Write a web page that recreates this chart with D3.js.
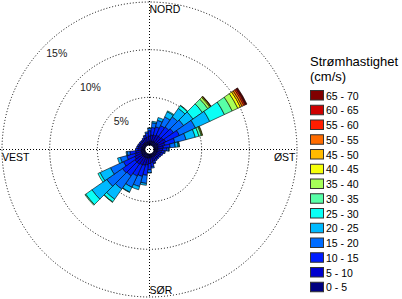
<!DOCTYPE html>
<html>
<head>
<meta charset="utf-8">
<script src="https://cdn.jsdelivr.net/npm/d3@7"></script>
<style>
  body { margin: 0; background: #fff; }
  svg { display: block; font-family: "Liberation Sans", Arial, sans-serif; }
</style>
</head>
<body>
<svg id="chart" width="402" height="299"></svg>
<script>
// direction of each sector (degrees, clockwise from north)
const directions = [0, 10, 20, 30, 40, 50, 60, 70, 80, 90, 100, 110, 120, 130, 140, 150, 160, 170,
                    180, 190, 200, 210, 220, 230, 240, 250, 260, 270, 280, 290, 300, 310, 320, 330, 340, 350];

const speedBins = ["0 - 5", "5 - 10", "10 - 15", "15 - 20", "20 - 25", "25 - 30", "30 - 35",
                   "35 - 40", "40 - 45", "45 - 50", "50 - 55", "55 - 60", "60 - 65", "65 - 70"];

// percent of time per direction, one array per speed bin
const s0_5   = [0.4,0.4,0.4,0.45,0.45,0.5,0.57,0.45,0.4,0.4,0.35,0.35,0.35,0.35,0.35,0.35,0.35,0.35,
                0.4,0.4,0.45,0.45,0.5,0.5,0.45,0.4,0.4,0.35,0.35,0.35,0.35,0.35,0.35,0.35,0.35,0.35];
const s5_10  = [0.55,0.65,0.7,0.75,0.75,0.8,0.83,0.75,0.6,0.5,0.45,0.4,0.35,0.35,0.35,0.35,0.45,0.55,
                0.6,0.75,0.8,0.85,0.9,0.9,0.8,0.7,0.6,0.4,0.35,0.35,0.3,0.3,0.3,0.35,0.45,0.5];
const s10_15 = [0.55,0.8,0.9,1.1,1.2,1.3,1.6,1.1,0.7,0.45,0.3,0.25,0.2,0.15,0.15,0.2,0.25,0.45,
                0.65,1.1,1.2,1.3,1.5,1.6,1.3,0.9,0.6,0.25,0.2,0.15,0.15,0.15,0.15,0.2,0.25,0.4];
const s15_20 = [0.25,0.5,0.7,1.0,1.3,1.3,1.85,1.2,0.55,0.2,0.1,0,0,0,0,0,0.05,0.15,
                0.3,0.85,1.1,1.3,1.7,2.0,1.5,0.7,0.3,0,0,0,0,0,0,0,0.05,0.15];
const s20_25 = [0.05,0.15,0.3,0.6,1.1,1.2,1.65,1.0,0.3,0.05,0,0,0,0,0,0,0,0,
                0.05,0.2,0.35,0.55,1.3,1.9,1.2,0.3,0.1,0,0,0,0,0,0,0,0,0];
const s25_30 = [0,0,0,0.1,0.35,1.2,1.7,0.4,0.1,0,0,0,0,0,0,0,0,0,
                0,0,0,0.05,0.35,0.8,0.25,0,0,0,0,0,0,0,0,0,0,0];
const s30_35 = [0,0,0,0,0.05,0.7,0.9,0.25,0.05,0,0,0,0,0,0,0,0,0,
                0,0,0,0,0.05,0.1,0,0,0,0,0,0,0,0,0,0,0,0];
const s35_40 = [0,0,0,0,0,0.25,0.65,0.1,0,0,0,0,0,0,0,0,0,0,
                0,0,0,0,0,0,0,0,0,0,0,0,0,0,0,0,0,0];
const s40_45 = [0,0,0,0,0,0.1,0.3,0.05,0,0,0,0,0,0,0,0,0,0,
                0,0,0,0,0,0,0,0,0,0,0,0,0,0,0,0,0,0];
const s45_50 = [0,0,0,0,0,0.05,0.2,0,0,0,0,0,0,0,0,0,0,0,
                0,0,0,0,0,0,0,0,0,0,0,0,0,0,0,0,0,0];
const s50_55 = [0,0,0,0,0,0.03,0.2,0,0,0,0,0,0,0,0,0,0,0,
                0,0,0,0,0,0,0,0,0,0,0,0,0,0,0,0,0,0];
const s55_60 = [0,0,0,0,0,0,0.15,0,0,0,0,0,0,0,0,0,0,0,
                0,0,0,0,0,0,0,0,0,0,0,0,0,0,0,0,0,0];
const s60_65 = [0,0,0,0,0,0,0.1,0,0,0,0,0,0,0,0,0,0,0,
                0,0,0,0,0,0,0,0,0,0,0,0,0,0,0,0,0,0];
const s65_70 = [0,0,0,0,0,0,0.1,0,0,0,0,0,0,0,0,0,0,0,
                0,0,0,0,0,0,0,0,0,0,0,0,0,0,0,0,0,0];

const series = [s0_5, s5_10, s10_15, s15_20, s20_25, s25_30, s30_35,
                s35_40, s40_45, s45_50, s50_55, s55_60, s60_65, s65_70];

const ringTicks = [5, 10, 15];
const compass = [
  {name: "NORD", angle: 0},
  {name: "ØST", angle: 90},
  {name: "SØR", angle: 180},
  {name: "VEST", angle: 270}
];

// matlab style jet colormap
function jet(t) {
  const f = x => Math.max(0, Math.min(1, x));
  const r = f(Math.min(4 * t - 1.5, -4 * t + 4.5));
  const g = f(Math.min(4 * t - 0.5, -4 * t + 3.5));
  const b = f(Math.min(4 * t + 0.5, -4 * t + 2.5));
  return d3.rgb(r * 255, g * 255, b * 255).formatHex();
}

const svg = d3.select("#chart");
const cx = 149.5, cy = 149.5;
const rMax = 147.5;
const hole = 4.5;

const r = d3.scaleLinear().domain([0, 15]).range([hole, rMax]);
const color = d3.scaleOrdinal()
  .domain(speedBins)
  .range(speedBins.map((d, i) => jet(i / (speedBins.length - 1))));

const g = svg.append("g").attr("transform", `translate(${cx},${cy})`);

// grid: dotted rings and cross
g.selectAll("circle.ring").data(ringTicks).join("circle")
  .attr("class", "ring")
  .attr("r", d => r(d))
  .attr("fill", "none")
  .attr("stroke", "#000")
  .attr("stroke-width", 1)
  .attr("stroke-dasharray", "1,2");

g.append("line").attr("x1", -cx).attr("x2", rMax).attr("y1", 0).attr("y2", 0)
  .attr("stroke", "#000").attr("stroke-dasharray", "1,2");
g.append("line").attr("y1", -rMax - 1).attr("y2", rMax).attr("x1", 0).attr("x2", 0)
  .attr("stroke", "#000").attr("stroke-dasharray", "1,2");

// stacked sectors
const stackData = directions.map((dir, i) => {
  let acc = 0;
  return series.map((s, k) => {
    const seg = {dir: dir, bin: speedBins[k], y0: acc, y1: acc + s[i]};
    acc += s[i];
    return seg;
  }).filter(d => d.y1 > d.y0);
});

const arc = d3.arc()
  .innerRadius(d => r(d.y0))
  .outerRadius(d => r(d.y1))
  .startAngle(d => (d.dir - 5) * Math.PI / 180)
  .endAngle(d => (d.dir + 5) * Math.PI / 180);

g.selectAll("g.sector").data(stackData).join("g")
  .attr("class", "sector")
  .selectAll("path").data(d => d).join("path")
  .attr("d", arc)
  .attr("fill", d => color(d.bin))
  .attr("stroke", "#000")
  .attr("stroke-width", 0.6);

// percentage labels along the NW diagonal
g.selectAll("text.pct").data(ringTicks).join("text")
  .attr("class", "pct")
  .attr("x", d => -r(d) * Math.SQRT1_2 + 1)
  .attr("y", d => -r(d) * Math.SQRT1_2 + 12)
  .attr("font-size", 10.5)
  .attr("fill", "#222")
  .text(d => d + "%");

// compass labels
g.selectAll("text.dir").data(compass).join("text")
  .attr("class", "dir")
  .attr("font-size", 10.5)
  .attr("fill", "#000")
  .attr("text-anchor", d => d.angle === 90 ? "end" : "start")
  .attr("x", d => d.angle === 90 ? rMax - 1.5 : d.angle === 270 ? -rMax : 0)
  .attr("y", d => d.angle === 0 ? -rMax + 11 : d.angle === 180 ? rMax - 3 : 11)
  .text(d => d.name);

// legend
const legend = svg.append("g").attr("transform", "translate(310,0)");
legend.append("text").attr("x", 0).attr("y", 66).attr("font-size", 13).text("Strømhastighet");
legend.append("text").attr("x", 0).attr("y", 81).attr("font-size", 13).text("(cm/s)");

const items = speedBins.slice().reverse();
const ly = d3.scaleLinear().domain([0, items.length - 1]).range([90, 90 + 13 * 14.75]);
const li = legend.selectAll("g.item").data(items).join("g")
  .attr("class", "item")
  .attr("transform", (d, i) => `translate(0,${ly(i)})`);
li.append("rect")
  .attr("x", 0.5).attr("y", 0.5).attr("width", 13).attr("height", 9.5)
  .attr("fill", d => color(d))
  .attr("stroke", "#333").attr("stroke-width", 1);
li.append("text").attr("x", 16).attr("y", 9.5).attr("font-size", 10.5).text(d => d);
</script>
</body>
</html>
